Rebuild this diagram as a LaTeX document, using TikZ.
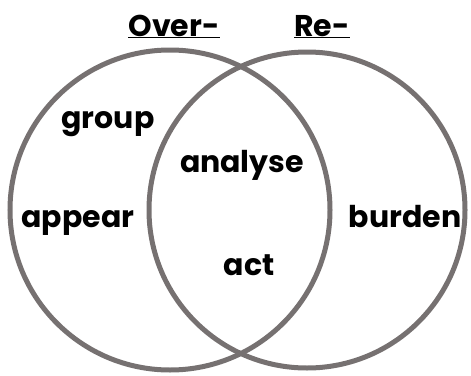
\documentclass[tikz,border=0pt]{standalone}
\usepackage{fontspec}
\setmainfont{Poppins}[UprightFont=* SemiBold,BoldFont=* Bold]
\usepackage{tikz}
\usetikzlibrary{calc}
\definecolor{ringgray}{RGB}{118,113,113}

\begin{document}
\begin{tikzpicture}[x=1pt,y=-1pt,
  ring/.style={draw=ringgray,line width=5pt},
  word/.style={anchor=base,inner sep=0pt,font=\fontsize{30}{30}\selectfont\bfseries},
  head/.style={word,font=\fontsize{30}{30}\selectfont\bfseries}]
\useasboundingbox (0,0) rectangle (471,375);
\draw[ring] (170,210) circle (160);
\draw[ring] (307,210) circle (158);
\node[head] (over) at (174,36) {\underline{Over-}};
\node[head] (re) at (322,36) {\underline{Re-}};
\node[word] (group) at (108,128) {group};
\node[word] (appear) at (78,227) {appear};
\node[word] (analyse) at (242,172) {analyse};
\node[word] (act) at (249,275) {act};
\node[word] (burden) at (405,227) {burden};
\end{tikzpicture}
\end{document}
